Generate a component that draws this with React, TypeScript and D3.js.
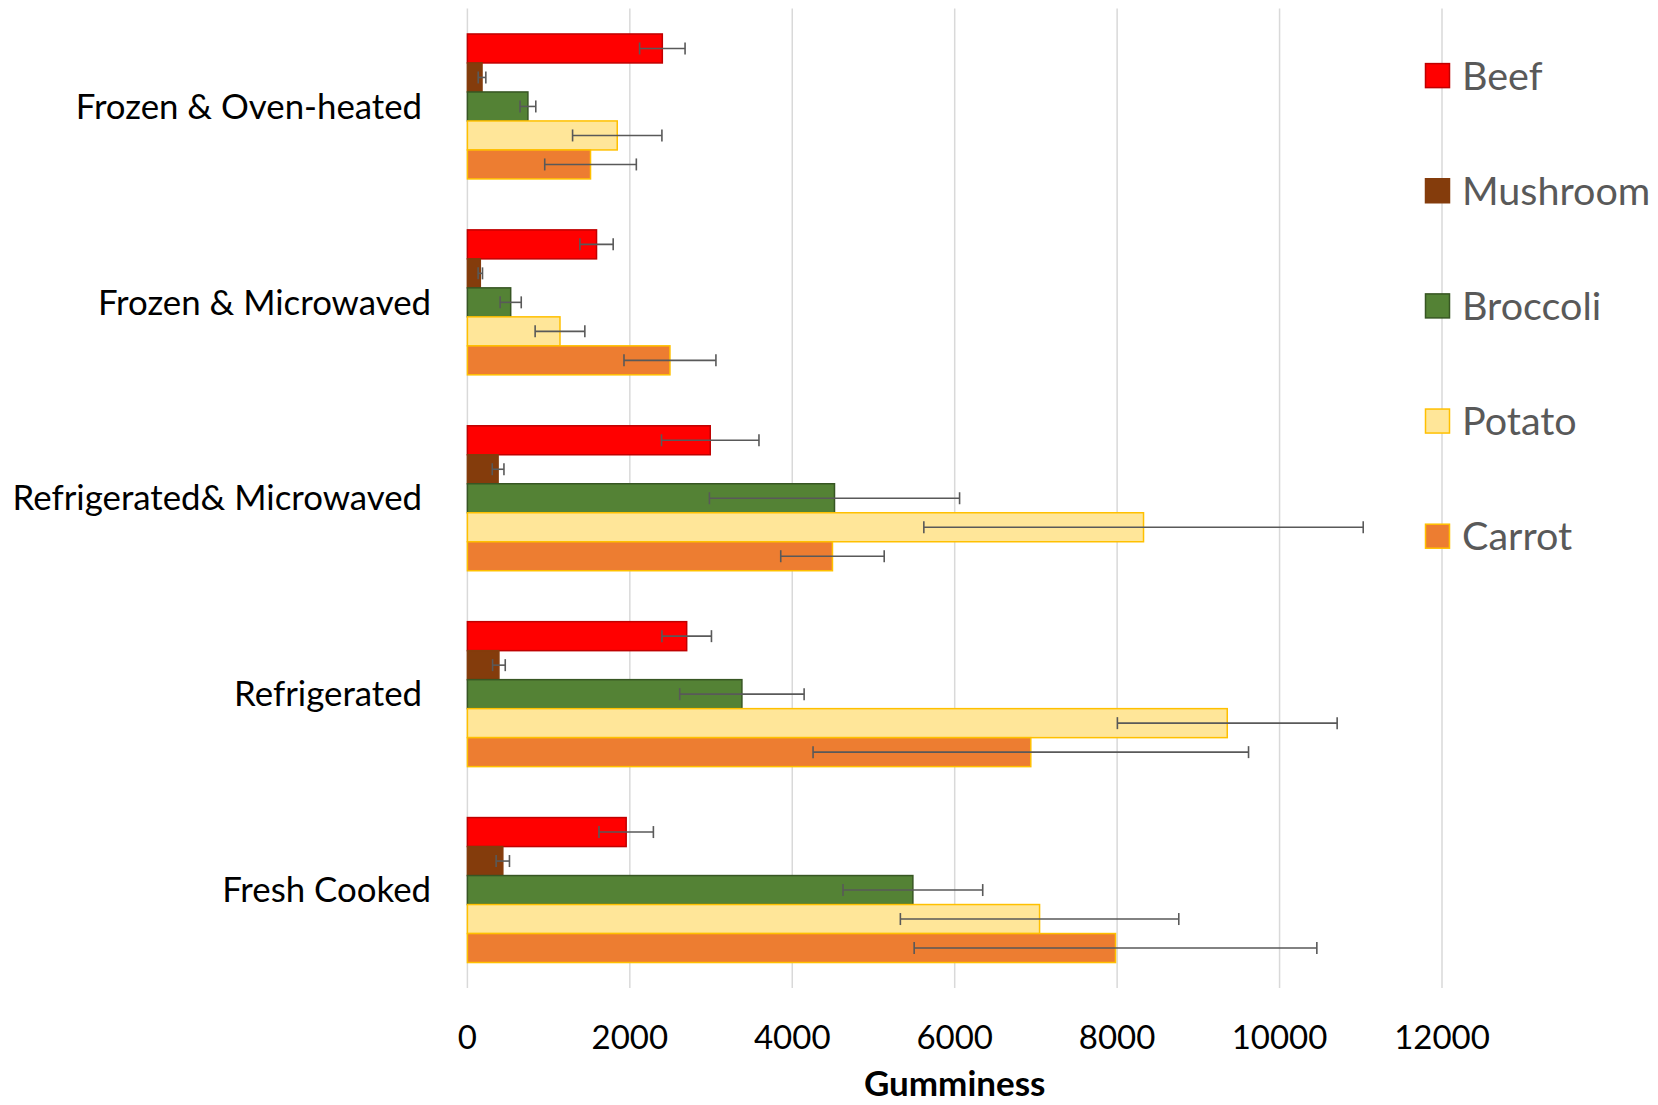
import React from "react";
import * as d3 from "d3";

const categories = [
  "Frozen & Oven-heated ",
  "Frozen & Microwaved",
  "Refrigerated& Microwaved ",
  "Refrigerated ",
  "Fresh Cooked",
];
const seriesNames = ["Beef", "Mushroom", "Broccoli", "Potato", "Carrot"];

const beefValues = [2400, 1590, 2990, 2700, 1955];
const beefErrors = [280, 205, 600, 305, 335];
const mushroomValues = [180, 159, 378, 388, 436];
const mushroomErrors = [47, 27, 72, 78, 82];
const broccoliValues = [745, 533, 4520, 3380, 5485];
const broccoliErrors = [97, 130, 1540, 766, 860];
const potatoValues = [1845, 1140, 8325, 9356, 7045];
const potatoErrors = [550, 306, 2705, 1353, 1714];
const carrotValues = [1516, 2494, 4495, 6937, 7980];
const carrotErrors = [564, 566, 637, 2681, 2479];

const xTicks = [0, 2000, 4000, 6000, 8000, 10000, 12000];
const axisTitle = "Gumminess";

const seriesValues = [beefValues, mushroomValues, broccoliValues, potatoValues, carrotValues];
const seriesErrors = [beefErrors, mushroomErrors, broccoliErrors, potatoErrors, carrotErrors];
const fills = ["#FF0000", "#843C0C", "#548235", "#FFE699", "#ED7D31"];
const strokes = ["#C00000", "#843C0C", "#375623", "#FFC000", "#FFC000"];

const W = 1658;
const H = 1105;
const plotLeft = 467.4;
const plotRight = 1442;
const plotTop = 8.5;
const plotBottom = 988;
const FONT = "Lato, 'Open Sans', sans-serif";

export default function App() {
  const x = d3.scaleLinear().domain([0, 12000]).range([plotLeft, plotRight]);
  const y = d3
    .scaleBand<string>()
    .domain(categories)
    .range([plotTop, plotBottom])
    .paddingInner(0.26)
    .paddingOuter(0.13);
  const ys = d3.scaleBand<string>().domain(seriesNames).range([0, y.bandwidth()]);
  const legendY = d3.scalePoint<string>().domain(seriesNames).range([75.6, 536.2]);

  return (
    <div style={{ position: "absolute", left: 0, top: 0 }}>
      <svg width={W} height={H} style={{ display: "block", background: "#fff" }}>
        {/* gridlines */}
        {xTicks.map((t) => (
          <line
            key={"g" + t}
            x1={x(t)}
            x2={x(t)}
            y1={plotTop}
            y2={plotBottom}
            stroke="#D9D9D9"
            strokeWidth={1.5}
          />
        ))}
        {/* bars */}
        {categories.map((c, ci) =>
          seriesNames.map((s, si) => {
            const v = seriesValues[si][ci];
            const yy = (y(c) as number) + (ys(s) as number);
            return (
              <rect
                key={c + s}
                x={x(0)}
                y={yy}
                width={x(v) - x(0)}
                height={ys.bandwidth()}
                fill={fills[si]}
                stroke={strokes[si]}
                strokeWidth={1.5}
              />
            );
          })
        )}
        {/* error bars */}
        {categories.map((c, ci) =>
          seriesNames.map((s, si) => {
            const v = seriesValues[si][ci];
            const e = seriesErrors[si][ci];
            const cy = (y(c) as number) + (ys(s) as number) + ys.bandwidth() / 2;
            const x1 = x(v - e);
            const x2 = x(v + e);
            return (
              <g key={"e" + c + s} stroke="#595959" strokeWidth={1.6}>
                <line x1={x1} x2={x2} y1={cy} y2={cy} />
                <line x1={x1} x2={x1} y1={cy - 6} y2={cy + 6} />
                <line x1={x2} x2={x2} y1={cy - 6} y2={cy + 6} />
              </g>
            );
          })
        )}
        {/* category labels */}
        {categories.map((c) => (
          <text
            key={"c" + c}
            x={431}
            y={(y(c) as number) + y.bandwidth() / 2}
            dy="0.35em"
            textAnchor="end"
            fontFamily={FONT}
            fontSize={34.8}
            fill="#000"
            style={{ whiteSpace: "pre" }}
          >
            {c}
          </text>
        ))}
        {/* tick labels */}
        {xTicks.map((t) => (
          <text
            key={"t" + t}
            x={x(t)}
            y={1049}
            textAnchor="middle"
            fontFamily={FONT}
            fontSize={33}
            fill="#000"
          >
            {t}
          </text>
        ))}
        <text
          x={(plotLeft + plotRight) / 2}
          y={1096}
          textAnchor="middle"
          fontFamily={FONT}
          fontSize={35}
          fontWeight="bold"
          fill="#000"
        >
          {axisTitle}
        </text>
        {/* legend */}
        {seriesNames.map((s, si) => {
          const cy = legendY(s) as number;
          return (
            <g key={"l" + s}>
              <rect
                x={1425.5}
                y={cy - 12}
                width={24}
                height={24}
                fill={fills[si]}
                stroke={strokes[si]}
                strokeWidth={1.5}
              />
              <text
                x={1462}
                y={cy}
                dy="0.36em"
                fontFamily={FONT}
                fontSize={39.5}
                fill="#595959"
              >
                {s}
              </text>
            </g>
          );
        })}
      </svg>
    </div>
  );
}
